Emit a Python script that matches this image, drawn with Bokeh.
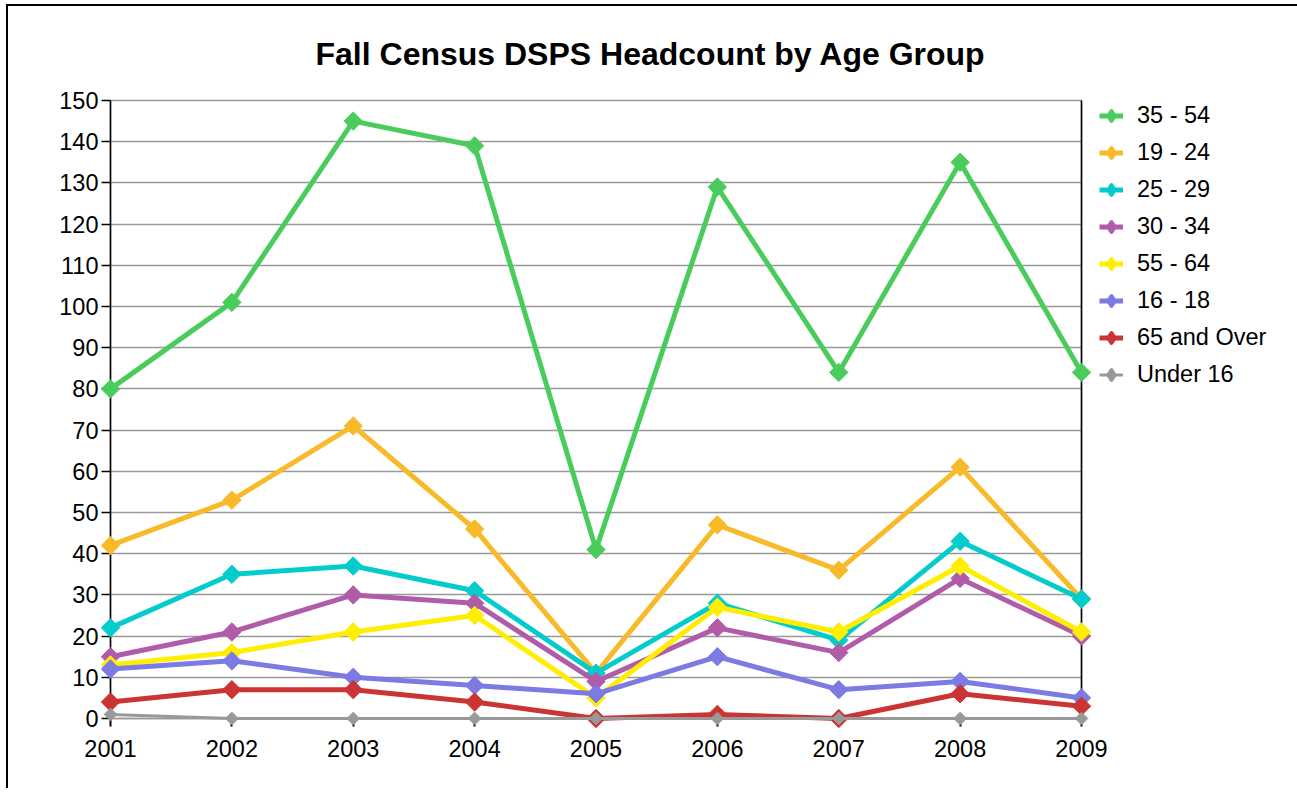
import math
from bokeh.plotting import figure
from bokeh.models import Range1d, FixedTicker, Legend, LegendItem, Title
from bokeh.embed import file_html
from bokeh.resources import INLINE

# ---------------- data ----------------
years = [2001, 2002, 2003, 2004, 2005, 2006, 2007, 2008, 2009]
yticks = [0, 10, 20, 30, 40, 50, 60, 70, 80, 90, 100, 110, 120, 130, 140, 150]

labels = ["35 - 54", "19 - 24", "25 - 29", "30 - 34", "55 - 64", "16 - 18", "65 and Over", "Under 16"]
age_35_54 = [80, 101, 145, 139, 41, 129, 84, 135, 84]
age_19_24 = [42, 53, 71, 46, 11, 47, 36, 61, 29]
age_25_29 = [22, 35, 37, 31, 11, 28, 19, 43, 29]
age_30_34 = [15, 21, 30, 28, 9, 22, 16, 34, 20]
age_55_64 = [13, 16, 21, 25, 5, 27, 21, 37, 21]
age_16_18 = [12, 14, 10, 8, 6, 15, 7, 9, 5]
age_65_over = [4, 7, 7, 4, 0, 1, 0, 6, 3]
age_under_16 = [1, 0, 0, 0, 0, 0, 0, 0, 0]
series = [age_35_54, age_19_24, age_25_29, age_30_34, age_55_64, age_16_18, age_65_over, age_under_16]
colors = ["#4ACC5C", "#F9BA2A", "#05CCCC", "#B05CA8", "#FFEE00", "#7B7BE3", "#CC3333", "#999999"]

FONT = "Liberation Sans"
FS = "23.5px"

p = figure(frame_width=971, frame_height=618, output_backend="svg", toolbar_location=None,
           x_range=Range1d(years[0], years[-1]), y_range=Range1d(yticks[0], yticks[-1]),
           min_border_left=102, min_border_right=216, min_border_top=94, min_border_bottom=72)
p.margin = (6, 0, 0, 8)
p.styles = {"box-shadow": "-2px -2px 0px 0px #000000"}
p.background_fill_color = "white"
p.border_fill_color = "white"
p.outline_line_color = "#999999"
p.outline_line_width = 1.5

title = Title(text="Fall Census DSPS Headcount by Age Group", align="left", offset=205,
              vertical_align="middle", text_font=FONT, text_font_size="32px",
              text_font_style="bold", text_color="black", standoff=56)
p.add_layout(title, "above")

# axes
yaxis = p.yaxis[0]
yaxis.ticker = FixedTicker(ticks=yticks)
yaxis.axis_line_color = "black"
yaxis.axis_line_width = 1.5
yaxis.major_tick_out = 9
yaxis.major_tick_in = 0
yaxis.major_tick_line_color = "black"
yaxis.major_tick_line_width = 1.5
yaxis.minor_tick_line_color = None
yaxis.major_label_standoff = 3
yaxis.major_label_text_font = FONT
yaxis.major_label_text_font_size = FS
yaxis.major_label_text_color = "black"

xaxis = p.xaxis[0]
xaxis.ticker = FixedTicker(ticks=years)
xaxis.axis_line_color = "#999999"
xaxis.axis_line_width = 1.5
xaxis.major_tick_out = 8
xaxis.major_tick_in = 0
xaxis.major_tick_line_color = "black"
xaxis.major_tick_line_width = 2
xaxis.minor_tick_line_color = None
xaxis.major_label_standoff = 13
xaxis.major_label_text_font = FONT
xaxis.major_label_text_font_size = FS
xaxis.major_label_text_color = "black"

p.xgrid.visible = False
p.ygrid.ticker = FixedTicker(ticks=yticks)
p.ygrid.grid_line_color = "#999999"
p.ygrid.grid_line_width = 1.5

# right frame edge in black
p.segment(x0=[years[-1]], x1=[years[-1]], y0=[yticks[0]], y1=[yticks[-1]],
          line_color="black", line_width=1.5, level="guide")

nan = float("nan")
items = []
for name, vals, col in zip(labels, series, colors):
    small = name == "Under 16"
    lr = p.line(years, vals, line_color=col, line_width=3 if small else 5,
                line_join="round", level="annotation")
    p.scatter(years, vals, marker="square", size=9 if small else 13, angle=math.pi / 4,
              fill_color=col, line_color=col, level="annotation")
    # legend-only marker (not drawn in the plot) so the key shows a diamond
    kr = p.scatter(x=[nan], y=[nan], marker="diamond", size=10, fill_color=col, line_color=col,
                   line_width=4, line_join="round")
    items.append(LegendItem(label=name, renderers=[lr, kr]))

legend = Legend(items=items, location=(18, 330), padding=0, margin=0, spacing=10,
                glyph_width=24, glyph_height=27, label_height=27, label_standoff=14,
                label_text_font=FONT, label_text_font_size=FS, label_text_color="black",
                border_line_color=None, background_fill_alpha=0)
p.add_layout(legend, "right")

open("out.html", "w").write(file_html(p, INLINE))
